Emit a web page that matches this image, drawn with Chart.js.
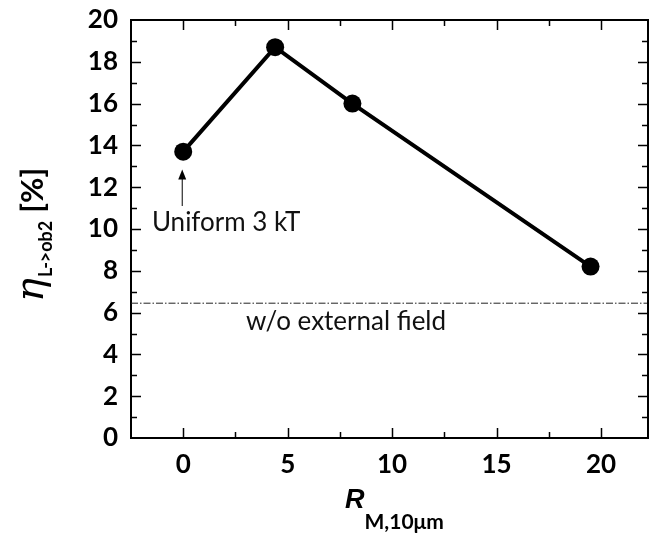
<!DOCTYPE html>
<html>
<head>
<meta charset="utf-8">
<script src="https://cdn.jsdelivr.net/npm/chart.js@4"></script>
<style>
  html, body { margin: 0; padding: 0; background: #fff; overflow: hidden; }
  #wrap { width: 657px; height: 539px; position: relative; }
</style>
</head>
<body>
<div id="wrap"><canvas id="grafica"></canvas></div>
<script>
// =========================
// DATOS
// =========================
const rValues = [0, 4.4, 8.1, 19.5];        // R_M,10um
const etaValues = [13.7, 18.7, 16.0, 8.2];  // eta L->ob2 [%]
const noFieldLevel = 6.45;                  // w/o external field
const xTicks = [0, 5, 10, 15, 20];
const yTicks = [0, 2, 4, 6, 8, 10, 12, 14, 16, 18, 20];

const X_MIN = -2.5, X_MAX = 22.25;
const TEXT_FONT = "26px Lato";

// =========================
// PLUGIN: marco, ticks hacia dentro, textos
// =========================
const decoraciones = {
  id: "decoraciones",
  afterDraw(chart) {
    const { ctx, chartArea: a, scales } = chart;
    const xs = scales.x, ys = scales.y;
    ctx.save();
    ctx.strokeStyle = "#000";

    // marco superior y derecho
    ctx.lineWidth = 2;
    ctx.beginPath();
    ctx.moveTo(a.left, a.top);
    ctx.lineTo(a.right, a.top);
    ctx.lineTo(a.right, a.bottom);
    ctx.stroke();

    // ticks x (abajo y arriba)
    ctx.lineWidth = 1.5;
    xTicks.forEach((v) => {
      [v, v + 2.5].forEach((t, i) => {
        const px = Math.round(xs.getPixelForValue(t)) + 0.5;
        if (px < a.left + 2 || px > a.right - 1) return;
        const len = i === 0 ? 10 : 6;
        ctx.beginPath();
        ctx.moveTo(px, a.bottom);
        ctx.lineTo(px, a.bottom - len);
        ctx.moveTo(px, a.top);
        ctx.lineTo(px, a.top + len);
        ctx.stroke();
      });
    });

    // ticks y (izquierda y derecha)
    yTicks.forEach((v) => {
      [v, v + 1].forEach((t, i) => {
        if (t <= 0 || t >= 20) return;
        const py = Math.round(ys.getPixelForValue(t)) + 0.5;
        const len = i === 0 ? 10 : 6;
        ctx.beginPath();
        ctx.moveTo(a.left, py);
        ctx.lineTo(a.left + len, py);
        ctx.moveTo(a.right, py);
        ctx.lineTo(a.right - len, py);
        ctx.stroke();
      });
    });

    // flecha "Uniform 3 kT"
    const ax = xs.getPixelForValue(0) - 1;
    const tipY = ys.getPixelForValue(12.85);
    const tailY = ys.getPixelForValue(11.1);
    ctx.lineWidth = 1;
    ctx.beginPath();
    ctx.moveTo(ax, tipY + 9);
    ctx.lineTo(ax, tailY);
    ctx.stroke();
    ctx.fillStyle = "#000";
    ctx.beginPath();
    ctx.moveTo(ax, tipY);
    ctx.lineTo(ax - 4, tipY + 10);
    ctx.lineTo(ax + 4, tipY + 10);
    ctx.closePath();
    ctx.fill();

    ctx.fillStyle = "#111";
    ctx.font = TEXT_FONT;
    ctx.textBaseline = "alphabetic";
    ctx.textAlign = "left";
    ctx.fillText("Uniform 3 kT", xs.getPixelForValue(-1.5), ys.getPixelForValue(9.9));
    ctx.fillText("w/o external field", xs.getPixelForValue(3.0), ys.getPixelForValue(5.15));

    // titulo eje x: R_M,10um
    ctx.fillStyle = "#000";
    ctx.font = "italic bold 27px 'Liberation Sans'";
    const rW = ctx.measureText("R").width;
    const x0 = 345;
    ctx.fillText("R", x0, 508);
    ctx.font = "bold 21px Lato";
    ctx.fillText("M,10\u03bcm", x0 + rW, 529);

    // titulo eje y: eta_L->ob2 [%]
    ctx.translate(43, 302);
    ctx.rotate(-Math.PI / 2);
    ctx.font = "italic 40px 'DejaVu Serif'";
    ctx.fillText("\u03b7", 0, 0);
    let off = ctx.measureText("\u03b7").width + 1;
    ctx.font = "bold 18px Lato";
    ctx.fillText("L->ob2", off, 9);
    off += ctx.measureText("L->ob2").width + 8;
    ctx.font = "bold 31px Lato";
    ctx.fillText("[%]", off, 0);

    ctx.restore();
  }
};

// =========================
// GRAFICA
// =========================
const ctx = document.getElementById("grafica").getContext("2d");

new Chart(ctx, {
  type: "scatter",
  data: {
    datasets: [
      {
        label: "eta",
        data: rValues.map((r, i) => ({ x: r, y: etaValues[i] })),
        showLine: true,
        borderColor: "#000",
        backgroundColor: "#000",
        borderWidth: 4,
        pointRadius: 9,
        pointHoverRadius: 9,
        pointBorderWidth: 0,
        pointBackgroundColor: "#000",
        pointBorderColor: "#000",
        order: 1
      },
      {
        label: "sin campo",
        data: [
          { x: X_MIN, y: noFieldLevel },
          { x: X_MAX, y: noFieldLevel }
        ],
        showLine: true,
        borderColor: "#222",
        borderWidth: 1,
        borderDash: [7, 2, 1.5, 2],
        pointRadius: 0,
        order: 2
      }
    ]
  },
  options: {
    responsive: true,
    maintainAspectRatio: false,
    animation: false,
    layout: { padding: { left: 0, top: 20, right: -2, bottom: 0 } },
    plugins: {
      legend: { display: false },
      tooltip: { enabled: false }
    },
    scales: {
      x: {
        type: "linear",
        min: X_MIN,
        max: X_MAX,
        afterBuildTicks: (scale) => {
          scale.ticks = xTicks.map((v) => ({ value: v }));
        },
        afterFit: (scale) => {
          scale.height = 101;
          scale.paddingLeft = 0;
          scale.paddingRight = 0;
        },
        grid: { display: false, drawTicks: false },
        border: { display: true, color: "#000", width: 2 },
        ticks: {
          color: "#000",
          font: { family: "Lato", size: 26, weight: "bold" },
          padding: 11,
          maxRotation: 0,
          autoSkip: false
        }
      },
      y: {
        type: "linear",
        min: 0,
        max: 20,
        afterBuildTicks: (scale) => {
          scale.ticks = yTicks.map((v) => ({ value: v }));
        },
        afterFit: (scale) => {
          scale.width = 131;
          scale.paddingTop = 0;
          scale.paddingBottom = 0;
        },
        grid: { display: false, drawTicks: false },
        border: { display: true, color: "#000", width: 2 },
        ticks: {
          color: "#000",
          font: { family: "Lato", size: 26, weight: "bold" },
          padding: 13,
          autoSkip: false
        }
      }
    }
  },
  plugins: [decoraciones]
});
</script>
</body>
</html>
